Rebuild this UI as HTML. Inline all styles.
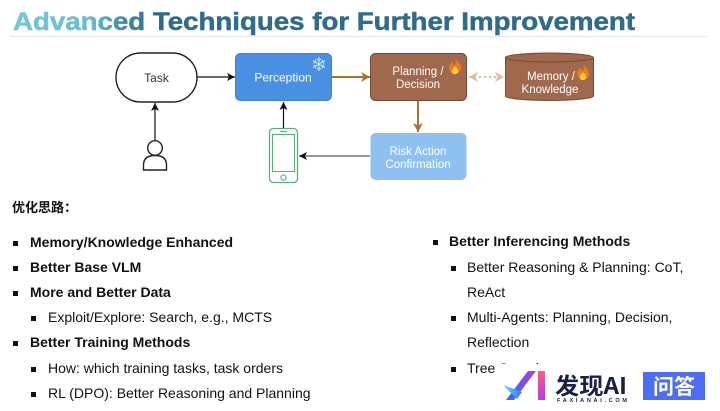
<!DOCTYPE html>
<html><head><meta charset="utf-8">
<style>
html,body{margin:0;padding:0;background:#fff;}
body{width:720px;height:411px;position:relative;overflow:hidden;font-family:"Liberation Sans","Noto Sans CJK SC",sans-serif;color:#111;}
.l{position:absolute;height:25px;line-height:25px;font-size:14px;white-space:nowrap;}
.b{font-weight:bold;}
.sq{position:absolute;width:5px;height:5px;background:#111;}
</style></head><body>
<svg width="720" height="411" viewBox="0 0 720 411" style="position:absolute;left:0;top:0">
<defs>
<linearGradient id="tg" gradientUnits="userSpaceOnUse" x1="13" y1="0" x2="160" y2="0">
<stop offset="0" stop-color="#74c7d6"/><stop offset="0.52" stop-color="#6bbcd0"/><stop offset="0.78" stop-color="#3f87a3"/><stop offset="1" stop-color="#2e6c89"/>
</linearGradient>
<marker id="ak" markerWidth="9" markerHeight="8" refX="8" refY="4" orient="auto" markerUnits="userSpaceOnUse"><path d="M0,0 L8,4 L0,8 L2,4 Z" fill="#111"/></marker>
<marker id="ab" markerWidth="10" markerHeight="10" refX="9" refY="5" orient="auto" markerUnits="userSpaceOnUse"><path d="M0,0 L9,5 L0,10 L2.5,5 Z" fill="#b0702a"/></marker>
<marker id="at" markerWidth="10" markerHeight="10" refX="9" refY="5" orient="auto" markerUnits="userSpaceOnUse"><path d="M0,0 L9,5 L0,10 L2.5,5 Z" fill="#dcc097"/></marker>
<marker id="ats" markerWidth="10" markerHeight="10" refX="1" refY="5" orient="auto" markerUnits="userSpaceOnUse"><path d="M10,0 L1,5 L10,10 L7.5,5 Z" fill="#dcc097"/></marker>
<linearGradient id="ai1" x1="0" y1="1" x2="1" y2="0"><stop offset="0" stop-color="#2f6cf0"/><stop offset="1" stop-color="#a640e8"/></linearGradient>
<linearGradient id="ai2" x1="0" y1="0" x2="0" y2="1"><stop offset="0" stop-color="#ff5f7a"/><stop offset="1" stop-color="#b03cf0"/></linearGradient>
<linearGradient id="ai3" x1="0" y1="0" x2="1" y2="0"><stop offset="0" stop-color="#5fd0ff"/><stop offset="1" stop-color="#3a7cf5"/></linearGradient>
</defs>
<!-- title -->
<text x="13" y="30" font-family="Liberation Sans" font-weight="bold" font-size="25" fill="url(#tg)" stroke="url(#tg)" stroke-width="0.5" textLength="622" lengthAdjust="spacingAndGlyphs">Advanced <tspan fill="#2e6c89" stroke="#2e6c89">Techniques for Further Improvement</tspan></text>
<line x1="10" y1="36.5" x2="708" y2="36.5" stroke="#ececec" stroke-width="1.5"/>

<!-- Task -->
<rect x="116" y="53" width="81" height="49" rx="24.5" fill="#fff" stroke="#222" stroke-width="1.4"/>
<text x="156.5" y="82" text-anchor="middle" font-family="Liberation Sans" font-size="12" fill="#333">Task</text>
<line x1="197" y1="77" x2="235" y2="77" stroke="#111" stroke-width="1.2" marker-end="url(#ak)"/>

<!-- person -->
<circle cx="155" cy="148" r="7.3" fill="#fff" stroke="#222" stroke-width="1.4"/>
<path d="M143.5,170 L143.5,165 Q143.5,155.5 155,155.5 Q166.5,155.5 166.5,165 L166.5,170 Z" fill="#fff" stroke="#222" stroke-width="1.4"/>
<line x1="155" y1="140" x2="155" y2="103" stroke="#111" stroke-width="1.2" marker-end="url(#ak)"/>

<!-- Perception -->
<rect x="235.5" y="53.5" width="96" height="47" rx="5" fill="#4a90e2" stroke="#3f82d3" stroke-width="1"/>
<text x="283" y="81.5" text-anchor="middle" font-family="Liberation Sans" font-size="12" fill="#fff">Perception</text>
<text x="319" y="71" text-anchor="middle" font-family="DejaVu Sans" font-size="19" fill="#bfe3f8">❄</text>
<line x1="332" y1="77" x2="370" y2="77" stroke="#b0702a" stroke-width="2" marker-end="url(#ab)"/>

<!-- phone -->
<rect x="269.5" y="128.5" width="28" height="54" rx="4" fill="#fff" stroke="#5cb07f" stroke-width="1.3"/>
<rect x="272.5" y="134.5" width="22" height="37" fill="#fff" stroke="#5cb07f" stroke-width="1.1"/>
<line x1="280" y1="131.5" x2="287" y2="131.5" stroke="#5cb07f" stroke-width="1.2"/>
<circle cx="283.5" cy="177.5" r="2.6" fill="#fff" stroke="#5cb07f" stroke-width="1.1"/>
<line x1="283.5" y1="128" x2="283.5" y2="102" stroke="#111" stroke-width="1.2" marker-end="url(#ak)"/>

<!-- Planning -->
<rect x="370.5" y="53.5" width="96" height="47" rx="5" fill="#a0684d" stroke="#774833" stroke-width="1"/>
<text x="418" y="75" text-anchor="middle" font-family="Liberation Sans" font-size="11.5" fill="#fff">Planning /</text>
<text x="418" y="88" text-anchor="middle" font-family="Liberation Sans" font-size="11.5" fill="#fff">Decision</text>
<g transform="translate(455,66)">
<path d="M0,-8 C3,-4 6,-2 6,2 C6,6 3,8 0,8 C-4,8 -6,5 -6,2 C-6,-1 -4,-2 -3,-5 C-2,-2 -1,-1 0,-1 C1,-3 1,-5 0,-8 Z" fill="#f07a1e"/>
<path d="M0,0 C2,2 3,3 3,5 C3,7 1.5,8 0,8 C-2,8 -3,7 -3,5 C-3,3 -1,2 0,0 Z" fill="#ffd23a"/>
</g>
<line x1="418" y1="101" x2="418" y2="132" stroke="#b0702a" stroke-width="2" marker-end="url(#ab)"/>

<!-- dotted -->
<line x1="469" y1="77" x2="504" y2="77" stroke="#dcc097" stroke-width="2" stroke-dasharray="2,3" marker-end="url(#at)" marker-start="url(#ats)"/>

<!-- Memory cylinder -->
<path d="M505.5,57.5 L505.5,96 A44,4.5 0 0 0 593.5,96 L593.5,57.5 Z" fill="#a0684d" stroke="#774833" stroke-width="1"/>
<ellipse cx="549.5" cy="57.5" rx="44" ry="4.5" fill="#a0684d" stroke="#774833" stroke-width="1"/>
<text x="551" y="80" text-anchor="middle" font-family="Liberation Sans" font-size="11.5" fill="#fff">Memory /</text>
<text x="550" y="93" text-anchor="middle" font-family="Liberation Sans" font-size="11.5" fill="#fff">Knowledge</text>
<g transform="translate(583,72)">
<path d="M0,-8 C3,-4 6,-2 6,2 C6,6 3,8 0,8 C-4,8 -6,5 -6,2 C-6,-1 -4,-2 -3,-5 C-2,-2 -1,-1 0,-1 C1,-3 1,-5 0,-8 Z" fill="#f07a1e"/>
<path d="M0,0 C2,2 3,3 3,5 C3,7 1.5,8 0,8 C-2,8 -3,7 -3,5 C-3,3 -1,2 0,0 Z" fill="#ffd23a"/>
</g>

<!-- Risk -->
<rect x="370.5" y="133" width="96" height="47" rx="5" fill="#8ec1f0"/>
<text x="418" y="155" text-anchor="middle" font-family="Liberation Sans" font-size="11.5" fill="#fff">Risk Action</text>
<text x="418" y="168" text-anchor="middle" font-family="Liberation Sans" font-size="11.5" fill="#fff">Confirmation</text>
<line x1="370" y1="156" x2="299" y2="156" stroke="#777" stroke-width="1.5" marker-end="url(#ak)"/>
</svg>

<div class="l b" style="left:12px;top:195px;font-size:13px;font-family:'Liberation Sans','Noto Sans CJK SC',sans-serif;">优化思路：</div>

<div class="sq" style="left:13px;top:241px"></div><div class="l b" style="left:30px;top:230px">Memory/Knowledge Enhanced</div>
<div class="sq" style="left:13px;top:266px"></div><div class="l b" style="left:30px;top:255px">Better Base VLM</div>
<div class="sq" style="left:13px;top:291px"></div><div class="l b" style="left:30px;top:280px">More and Better Data</div>
<div class="sq" style="left:31px;top:316px"></div><div class="l" style="left:48px;top:305px">Exploit/Explore: Search, e.g., MCTS</div>
<div class="sq" style="left:13px;top:341px"></div><div class="l b" style="left:30px;top:330px">Better Training Methods</div>
<div class="sq" style="left:31px;top:367px"></div><div class="l" style="left:48px;top:356px">How: which training tasks, task orders</div>
<div class="sq" style="left:31px;top:392px"></div><div class="l" style="left:48px;top:381px">RL (DPO): Better Reasoning and Planning</div>

<div class="sq" style="left:433px;top:240px"></div><div class="l b" style="left:449px;top:229px">Better Inferencing Methods</div>
<div class="sq" style="left:451px;top:266px"></div><div class="l" style="left:467px;top:255px">Better Reasoning &amp; Planning: CoT,</div>
<div class="l" style="left:467px;top:280px">ReAct</div>
<div class="sq" style="left:451px;top:316px"></div><div class="l" style="left:467px;top:305px">Multi-Agents: Planning, Decision,</div>
<div class="l" style="left:467px;top:330px">Reflection</div>
<div class="sq" style="left:451px;top:367px"></div><div class="l" style="left:467px;top:356px">Tree Search</div>

<!-- watermark -->
<div style="position:absolute;left:500px;top:364px;width:220px;height:47px;background:#fff"></div>
<svg width="720" height="411" viewBox="0 0 720 411" style="position:absolute;left:0;top:0">
<polygon points="506,400 514,400 536,371 528,371" fill="url(#ai1)"/>
<polygon points="503,385 522,392 517,399" fill="url(#ai3)"/>
<rect x="538" y="371" width="7" height="29" fill="url(#ai2)"/>
<text x="555" y="394" font-family="Noto Sans CJK SC, sans-serif" font-weight="bold" font-size="23" fill="#1b1f4b" textLength="72" lengthAdjust="spacingAndGlyphs">发现AI</text>
<text x="557" y="402" font-family="Liberation Sans" font-weight="bold" font-size="5.5" fill="#1b1f4b" textLength="70" lengthAdjust="spacing">FAXIANAI.COM</text>
<rect x="643" y="372" width="62" height="28" fill="#4d6ef0"/>
<text x="674" y="394" text-anchor="middle" font-family="Noto Sans CJK SC, sans-serif" font-weight="bold" font-size="21" fill="#fff">问答</text>
</svg>
</body></html>
